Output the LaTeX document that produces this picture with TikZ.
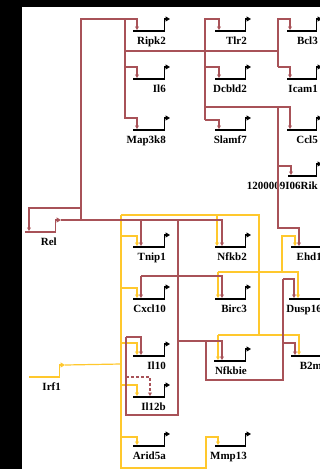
\documentclass[tikz,border=0pt]{standalone}
\usepackage{fontspec}
\setmainfont{Liberation Serif}
\usetikzlibrary{arrows.meta,calc}
\definecolor{relcol}{RGB}{168,82,88}
\definecolor{irfcol}{RGB}{255,200,45}
\tikzset{
 gline/.style={line width=2.2pt},
 gbend/.style={line width=1.3pt,-{Triangle[length=4.5pt,width=5pt]}},
 glabel/.style={anchor=base east,inner sep=0pt,font=\fontsize{11}{12}\selectfont\bfseries},
 rc/.style={draw=relcol,line width=1.2pt},
 yc/.style={draw=irfcol,line width=1.2pt},
 tipd/.style={-{Triangle[length=3.5pt,width=3.8pt]},shorten >=1pt},
}
\newcommand\gn[6]{%
 \draw[gline,#6] (#2,#4) -- (#3,#4);
 \draw[gbend,#6] (#3-0.6,#4+0.5) -- (#3-0.6,#4-12) -- (#3+5,#4-12);
 \coordinate (#1-in) at (#2,#4);
 \coordinate (#1-tip) at (#3+5,#4-12);
 \node[glabel] (#1) at (#3+1,#4+13.5) {#5};
}
\begin{document}
\begin{tikzpicture}[x=1pt,y=-1pt]
\useasboundingbox (0,0) rectangle (320,469);
\fill[black] (0,0) rectangle (320,469);
\fill[white] (22,7) rectangle (320,469);
\clip (22,7) rectangle (320,469);

% genes
\gn{Ripk2}{133}{165}{31}{Ripk2}{black}
\gn{Il6}{133}{165}{79}{Il6}{black}
\gn{Map3k8}{133}{165}{130}{Map3k8}{black}
\gn{Tlr2}{215}{246}{31}{Tlr2}{black}
\gn{Dcbld2}{215}{246}{79}{Dcbld2}{black}
\gn{Slamf7}{215}{246}{130}{Slamf7}{black}
\gn{Bcl3}{287}{317}{31}{Bcl3}{black}
\gn{Icam1}{287}{317}{79}{Icam1}{black}
\gn{Ccl5}{287}{317}{130}{Ccl5}{black}
\gn{Rik}{288}{317}{176}{1200009I06Rik}{black}
\gn{Rel}{25}{56}{232}{Rel}{relcol}
\gn{Irf1}{29}{60}{377}{Irf1}{irfcol}
\gn{Tnip1}{133}{165}{247}{Tnip1}{black}
\gn{Nfkb2}{215}{246}{247}{Nfkb2}{black}
\gn{Ehd1}{291}{321}{247}{Ehd1}{black}
\gn{Cxcl10}{133}{165}{299}{Cxcl10}{black}
\gn{Birc3}{215}{246}{299}{Birc3}{black}
\gn{Dusp16}{289}{321}{299}{Dusp16}{black}
\gn{Il10}{133}{165}{356}{Il10}{black}
\gn{Nfkbie}{214}{246}{361}{Nfkbie}{black}
\gn{B2m}{291}{321}{356}{B2m}{black}
\gn{Il12b}{133}{165}{397}{Il12b}{black}
\gn{Arid5a}{133}{165}{446}{Arid5a}{black}
\gn{Mmp13}{215}{246}{446}{Mmp13}{black}

% Irf1 (yellow) connectors
\draw[yc] (Irf1-tip) -- (121,364);
\draw[yc,tipd] (121,215) |- (206,468) |- (218,437) -- (Mmp13-in -| 218,0);
\draw[yc] (121,215) -- (259,215) -- (259,335);
\draw[yc,tipd] (217,215) -- (Nfkb2-in -| 217,0);
\draw[yc,tipd] (121,236) -| (Tnip1-in -| 137,0);
\draw[yc,tipd] (121,288) -| (Cxcl10-in -| 137,0);
\draw[yc,tipd] (121,343) -| (Il10-in -| 137,0);
\draw[yc,tipd] (121,385) -| (Il12b-in -| 137,0);
\draw[yc,tipd] (121,437) -| (Arid5a-in -| 137,0);
\draw[yc,tipd] (218,272) -| (Dusp16-in -| 298,0);
\draw[yc,tipd] (218,272) -- (Birc3-in -| 218,0);
\draw[yc,tipd] (282,272) |- (295,236) -- (Ehd1-in -| 295,0);
\draw[yc,tipd] (218,335) -| (B2m-in -| 299,0);
\draw[yc,tipd] (218,335) -- (Nfkbie-in -| 218,0);

% Rel (red) connectors
\draw[rc,tipd] (Rel-tip) -| (Nfkb2-in -| 222,0);
\draw[rc,tipd] (141,220) -- (Tnip1-in -| 141,0);
\draw[rc] (81,220) -- (81,19) -- (125,19);
\draw[rc,tipd] (81,208) -| (Rel-in -| 29,0);
\draw[rc,tipd] (125,19) -| (Ripk2-in -| 137,0);
\draw[rc,tipd] (125,19) |- (137,118) -- (Map3k8-in -| 137,0);
\draw[rc,tipd] (125,67) -| (Il6-in -| 137,0);
\draw[rc] (125,51) -- (278,51);
\draw[rc,tipd] (205,120) |- (219,19) -- (Tlr2-in -| 219,0);
\draw[rc,tipd] (205,67) -| (Dcbld2-in -| 219,0);
\draw[rc,tipd] (205,120) -| (Slamf7-in -| 219,0);
\draw[rc,tipd] (205,107) -| (Ccl5-in -| 290,0);
\draw[rc,tipd] (278,67) |- (290,19) -- (Bcl3-in -| 290,0);
\draw[rc,tipd] (278,67) -| (Icam1-in -| 290,0);
\draw[rc,tipd] (278,107) |- (299,228) -- (Ehd1-in -| 299,0);
\draw[rc,tipd] (278,166) -| (Rik-in -| 291,0);
\draw[rc] (178,220) -- (178,415) -| (126,337);
\draw[rc,tipd] (126,337) -| (Il10-in -| 141,0);
\draw[rc,tipd] (141,276) -| (Birc3-in -| 222,0);
\draw[rc,tipd] (141,276) -- (Cxcl10-in -| 141,0);
\draw[rc,tipd,dash pattern=on 3pt off 2pt] (126,377) -| (Il12b-in -| 150,0);
\draw[rc,tipd] (178,341) -| (Nfkbie-in -| 222,0);
\draw[rc] (206,341) |- (283,380) -- (283,279);
\draw[rc,tipd] (283,279) -| (Dusp16-in -| 294,0);
\draw[rc,tipd] (283,343) -| (B2m-in -| 295,0);
\end{tikzpicture}
\end{document}
